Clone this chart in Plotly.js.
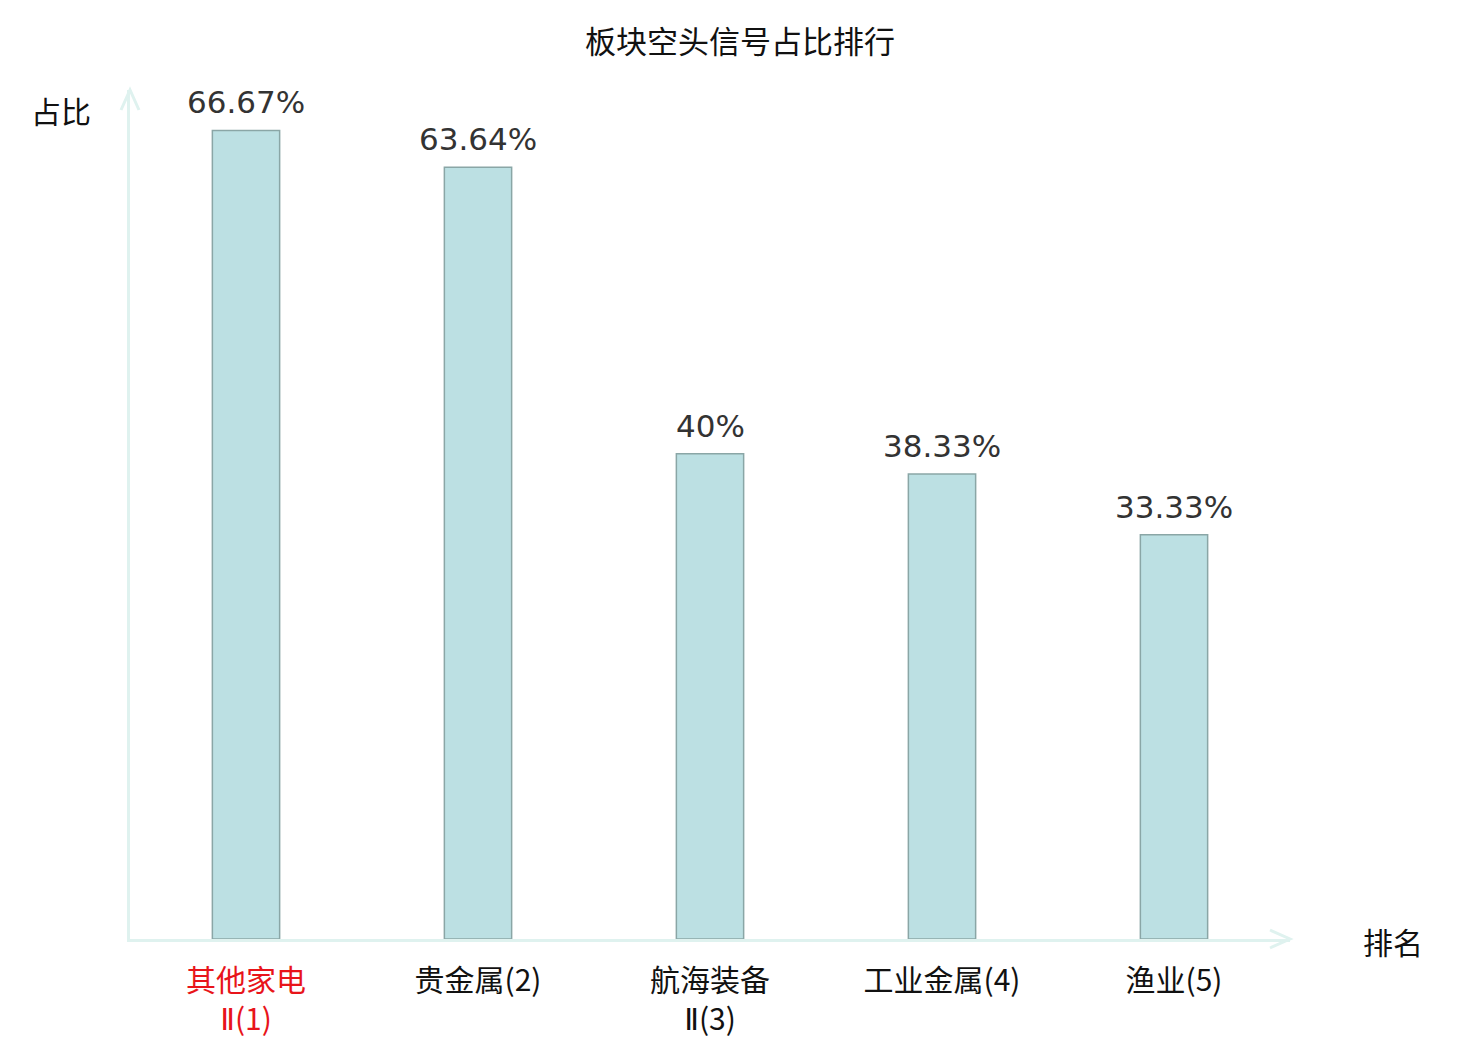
<!DOCTYPE html>
<html>
<head>
<meta charset="utf-8">
<script src="https://cdn.plot.ly/plotly-3.0.1.min.js"></script>
<style>
  body { margin: 0; background: #ffffff; }
  #chart { width: 1480px; height: 1040px; }
</style>
</head>
<body>
<div id="chart"></div>
<script>
// sectors ranked by share of short signals
var categories = ['其他家电Ⅱ', '贵金属', '航海装备Ⅱ', '工业金属', '渔业'];
var roman_two = '<span style="font-family:\'DejaVu Sans\'">Ⅱ</span>';
var tick_labels = [
  '<span style="color:#e8141a">其他家电<br>' + roman_two + '(1)</span>',
  '贵金属(2)',
  '航海装备<br>' + roman_two + '(3)',
  '工业金属(4)',
  '渔业(5)'
];
var share_values = [66.67, 63.64, 40, 38.33, 33.33];

var axis_color = '#dff2ef';
var cjk_font = '"Noto Sans CJK SC", "Noto Sans", sans-serif';

var data = [{
  type: 'bar',
  x: categories,
  y: share_values,
  width: 0.29,
  marker: {
    color: '#bce0e3',
    line: { color: '#8aa6a6', width: 1.5 }
  },
  hoverinfo: 'x+y',
  showlegend: false
}];

// value labels above each bar
var annotations = categories.map(function (c, i) {
  return {
    x: c,
    y: share_values[i],
    xref: 'x',
    yref: 'y',
    text: share_values[i] + '%',
    showarrow: false,
    yanchor: 'bottom',
    yshift: 8,
    font: { family: '"DejaVu Sans", sans-serif', size: 31, color: '#333333' }
  };
});

annotations.push({
  xref: 'paper', yref: 'paper',
  x: 0, y: 1,
  xshift: -37, yshift: -20,
  xanchor: 'right', yanchor: 'middle',
  text: '占比',
  showarrow: false,
  font: { family: cjk_font, size: 30, color: '#111111' }
});
annotations.push({
  xref: 'paper', yref: 'paper',
  x: 1, y: 0,
  xshift: 71, yshift: -2,
  xanchor: 'left', yanchor: 'middle',
  text: '排名',
  showarrow: false,
  font: { family: cjk_font, size: 30, color: '#111111' }
});

var layout = {
  width: 1480,
  height: 1040,
  paper_bgcolor: '#ffffff',
  plot_bgcolor: '#ffffff',
  margin: { l: 130, r: 190, t: 90, b: 101, pad: 0 },
  title: {
    text: '板块空头信号占比排行',
    x: 0.5,
    xref: 'container',
    xanchor: 'center',
    y: 0.959,
    yref: 'container',
    yanchor: 'middle',
    font: { family: cjk_font, size: 31, color: '#111111' }
  },
  xaxis: {
    type: 'category',
    tickvals: categories,
    ticktext: tick_labels,
    showline: true,
    linecolor: axis_color,
    linewidth: 3,
    showgrid: false,
    zeroline: false,
    ticks: '',
    ticklabelstandoff: 13,
    tickfont: { family: cjk_font, size: 30, color: '#111111' }
  },
  yaxis: {
    range: [0, 70],
    showline: true,
    linecolor: axis_color,
    linewidth: 3,
    showgrid: false,
    zeroline: false,
    showticklabels: false,
    ticks: ''
  },
  shapes: [
    {
      // arrow head on the x axis
      type: 'path',
      xref: 'paper', yref: 'paper',
      xsizemode: 'pixel', ysizemode: 'pixel',
      xanchor: 1, yanchor: 0,
      path: 'M -20 9 L 0 0 L -20 -9',
      line: { color: axis_color, width: 3 }
    },
    {
      // arrow head on the y axis
      type: 'path',
      xref: 'paper', yref: 'paper',
      xsizemode: 'pixel', ysizemode: 'pixel',
      xanchor: 0, yanchor: 1,
      path: 'M -9 -20 L 0 0 L 9 -20',
      line: { color: axis_color, width: 3 }
    }
  ],
  annotations: annotations
};

Plotly.newPlot('chart', data, layout, { displayModeBar: false });
</script>
</body>
</html>
